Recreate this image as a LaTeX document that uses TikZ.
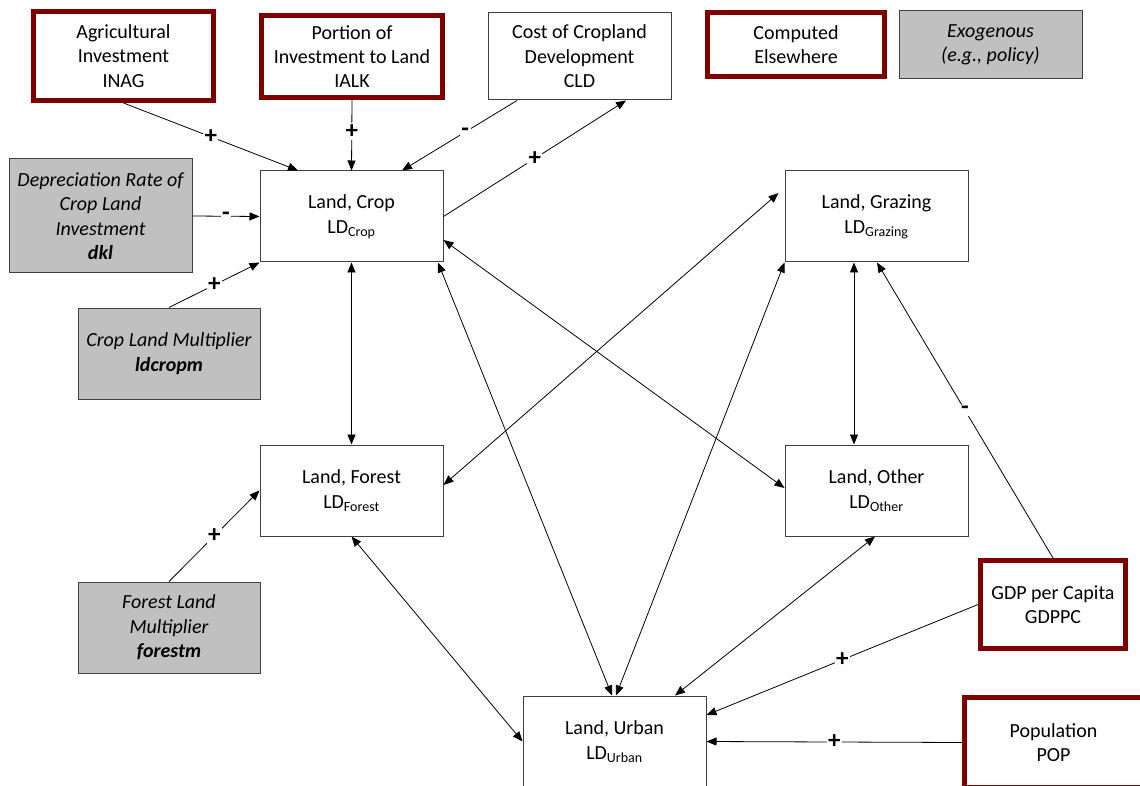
\documentclass[tikz,border=0pt]{standalone}
\usepackage{fontspec}
\setmainfont{Carlito}
\usetikzlibrary{arrows.meta,calc}
\definecolor{darkred}{HTML}{800000}
\definecolor{boxgray}{HTML}{404040}
\definecolor{exofill}{HTML}{C0C0C0}
\begin{document}
\begin{tikzpicture}[x=1pt,y=-1pt,
  every node/.style={font=\fontsize{20}{24.4}\selectfont, align=center, inner sep=0pt},
  plain/.style={draw=boxgray, line width=1pt, fill=white, outer sep=0.5pt},
  landbox/.style={plain, minimum width=183pt, minimum height=91pt, font=\fontsize{20}{25}\selectfont},
  computed/.style={draw=darkred, line width=5pt, fill=white, outer sep=2.5pt},
  exo/.style={draw=boxgray, line width=1pt, fill=exofill, outer sep=0.5pt, font=\fontsize{20}{24.4}\selectfont\itshape},
  link/.style={line width=0.8pt, -{Triangle[length=10pt,width=8pt]}},
  blink/.style={line width=0.8pt, {Triangle[length=10pt,width=8pt]}-{Triangle[length=10pt,width=8pt]}},
  sign/.style={fill=white, inner sep=1.5pt, font=\fontsize{25}{25}\selectfont\bfseries}
]
\useasboundingbox (0,0) rectangle (1140,786);
\clip (0,0) rectangle (1140,786);

% computed elsewhere (thick dark red)
\node[computed, minimum width=180pt, minimum height=89pt] (inag) at (123.5,56) {Agricultural\\Investment\\INAG};
\node[computed, minimum width=181pt, minimum height=82pt] (ialk) at (352,56.5) {Portion of\\Investment to Land\\IALK};
\node[computed, minimum width=177pt, minimum height=64pt] (comp) at (796,44.5) {Computed\\Elsewhere};
\node[computed, minimum width=145pt, minimum height=88pt] (gdppc) at (1053,604.5) {GDP per Capita\\GDPPC};
\node[computed, minimum width=178pt, minimum height=90pt] (pop) at (1053.5,742.5) {Population\\POP};

% plain boxes
\node[plain, minimum width=183pt, minimum height=87pt] (cld) at (579.5,56.5) {Cost of Cropland\\Development\\CLD};
\node[landbox] (crop) at (351.5,216.5) {Land, Crop\\LD\textsubscript{Crop}};
\node[landbox] (graz) at (876.5,216.5) {Land, Grazing\\LD\textsubscript{Grazing}};
\node[landbox] (forest) at (351.5,490.5) {Land, Forest\\LD\textsubscript{Forest}};
\node[landbox] (other) at (876.5,490.5) {Land, Other\\LD\textsubscript{Other}};
\node[landbox] (urban) at (614.5,741.5) {Land, Urban\\LD\textsubscript{Urban}};

% exogenous boxes
\node[exo, minimum width=183pt, minimum height=68pt] (exog) at (990.5,45) {Exogenous\\(e.g., policy)};
\node[exo, minimum width=183pt, minimum height=114pt] (dkl) at (100.5,216) {Depreciation Rate of\\Crop Land\\Investment\\\textbf{dkl}};
\node[exo, minimum width=182pt, minimum height=91pt] (ldcropm) at (169,353.5) {Crop Land Multiplier\\\textbf{ldcropm}};
\node[exo, minimum width=182pt, minimum height=91pt] (forestm) at (169,627.5) {Forest Land\\Multiplier\\\textbf{forestm}};

% connectors into Land, Crop
\draw[link] (inag.south) -- ($(crop.north)+(-53.5,0)$) node[sign,pos=0.5] {+};
\draw[link] (ialk.south) -- (crop.north) node[sign,pos=0.45] {+};
\draw[link] ($(cld.south)+(-62.5,0)$) -- ($(crop.north)+(50.5,0)$) node[sign,pos=0.45] {-};
\draw[link] (crop.east) -- ($(cld.south)+(46.5,0)$) node[sign,pos=0.5] {+};
\draw[link] (dkl.east) -- (crop.west) node[sign,pos=0.5] {-};
\draw[link] (ldcropm.north) -- (crop.south west) node[sign,pos=0.5] {+};

% land-to-land links
\draw[blink] (crop.south) -- (forest.north);
\draw[blink] ($(crop.east)+(0,23.5)$) -- ($(other.west)+(0,-2.5)$);
\draw[blink] ($(crop.south)+(86.5,0)$) -- ($(urban.north)+(-2.5,0)$);
\draw[blink] ($(forest.east)+(0,-5.5)$) -- ($(graz.west)+(-6,-23.5)$);
\draw[blink] (graz.south west) -- ($(urban.north)+(1.5,0)$);
\draw[blink] ($(graz.south)+(-22.5,0)$) -- ($(other.north)+(-22.5,0)$);
\draw[blink] (forest.south) -- (urban.west);
\draw[blink] ($(other.south)+(-1.5,0)$) -- ($(urban.north)+(60.5,0)$);

% other influences
\draw[link] (forestm.north) -- (forest.west) node[sign,pos=0.5] {+};
\draw[link] (gdppc.north) -- ($(graz.south)+(0.5,0)$) node[sign,pos=0.5] {-};
\draw[link] (gdppc.west) -- ($(urban.east)+(0,-26.5)$) node[sign,pos=0.5] {+};
\draw[link] (pop.west) -- (urban.east) node[sign,pos=0.5] {+};
\end{tikzpicture}
\end{document}
